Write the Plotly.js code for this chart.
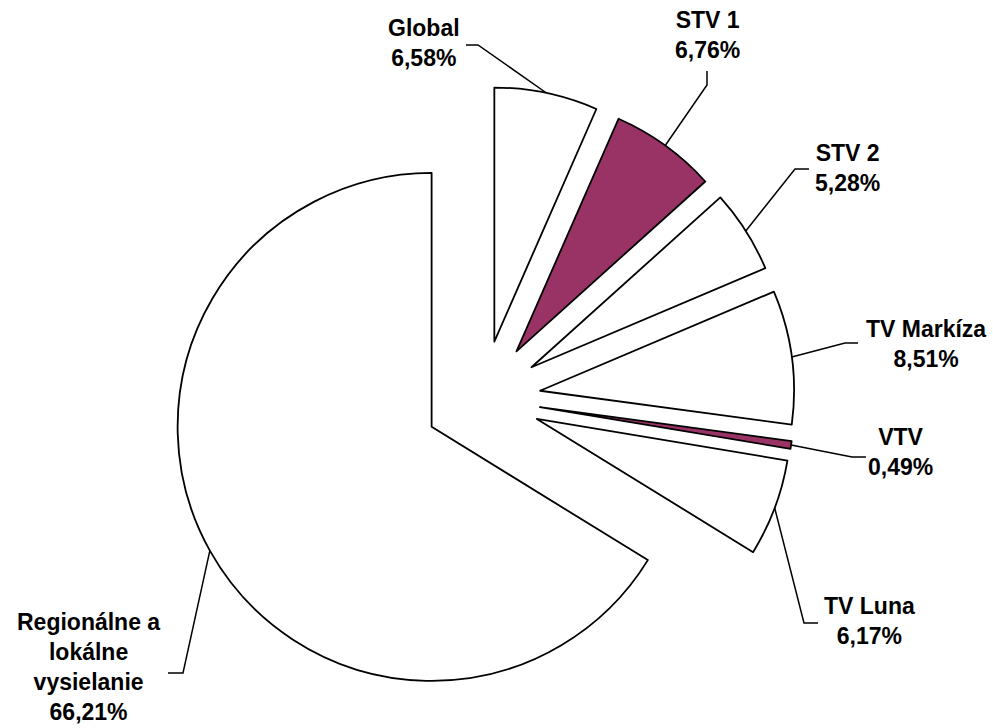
<!DOCTYPE html>
<html><head><meta charset="utf-8">
<script src="https://cdn.plot.ly/plotly-3.0.1.min.js"></script>
<style>html,body{margin:0;padding:0;background:#fff}</style>
</head><body><div id="chart" style="width:993px;height:728px"></div>
<script>
// ---- data ----
const labels = ['Global', 'STV 1', 'STV 2', 'TV Markíza', 'VTV', 'TV Luna', 'Regionálne a lokálne vysielanie'];
const labelLines = [['Global'], ['STV 1'], ['STV 2'], ['TV Markíza'], ['VTV'], ['TV Luna'], ['Regionálne a', 'lokálne', 'vysielanie']];
const shares = [6.58, 6.76, 5.28, 8.51, 0.49, 6.17, 66.21];
const sliceColors = ['#ffffff', '#993366', '#ffffff', '#ffffff', '#993366', '#ffffff', '#ffffff'];

// ---- layout geometry (pixels) ----
const W = 993, H = 728;
const CX = 482.4, CY = 398.5, PULL = 0.229, BOX = 624.3;
const R = BOX / (2 + 2 * PULL);
// per label: elbow x,y ; end x,y ; text centre x,y
const leaderLayout = [
  [478, 45, 466, 45, 424, 43],
  [707, 85, 707, 71, 707, 35],
  [795, 169, 809, 169, 847, 168],
  [845, 343, 858, 343, 926, 344],
  [852, 457, 866, 457, 900, 452],
  [804, 623, 818, 623, 869, 621],
  [183, 673, 168, 673, 88, 667]
];

const total = shares.reduce((a, b) => a + b, 0);
const px = x => x / W, py = y => 1 - y / H;

const shapes = [], annotations = [];
let cum = 0;
shares.forEach((v, i) => {
  const mid = (cum + v / 2) / total * 2 * Math.PI;
  cum += v;
  const rr = R * (1 + PULL);
  const sx = CX + rr * Math.sin(mid), sy = CY - rr * Math.cos(mid);
  const L = leaderLayout[i];
  shapes.push({
    type: 'path', xref: 'paper', yref: 'paper',
    path: `M ${px(sx)},${py(sy)} L ${px(L[0])},${py(L[1])} L ${px(L[2])},${py(L[3])}`,
    line: {color: '#000', width: 1.5}
  });
  const pct = v.toFixed(2).replace('.', ',') + '%';
  const lines = labelLines[i].concat([pct]).map(s => '<b>' + s + '</b>');
  annotations.push({
    xref: 'paper', yref: 'paper', x: px(L[4]), y: py(L[5]),
    xanchor: 'center', yanchor: 'middle', showarrow: false, align: 'center',
    text: lines.join('<br>'),
    font: {family: 'Arial, "Liberation Sans", sans-serif', size: 23, color: '#000'}
  });
});

const trace = {
  type: 'pie',
  labels: labels,
  values: shares,
  sort: false,
  direction: 'clockwise',
  rotation: 0,
  pull: PULL,
  textinfo: 'none',
  hoverinfo: 'label+percent',
  marker: {colors: sliceColors, line: {color: '#000', width: 1.8}},
  domain: {
    x: [(CX - BOX / 2) / W, (CX + BOX / 2) / W],
    y: [1 - (CY + BOX / 2) / H, 1 - (CY - BOX / 2) / H]
  },
  showlegend: false
};

Plotly.newPlot('chart', [trace], {
  width: W, height: H,
  margin: {l: 0, r: 0, t: 0, b: 0},
  paper_bgcolor: '#fff', plot_bgcolor: '#fff',
  showlegend: false,
  shapes: shapes,
  annotations: annotations
}, {displayModeBar: false, staticPlot: true});
</script></body></html>
